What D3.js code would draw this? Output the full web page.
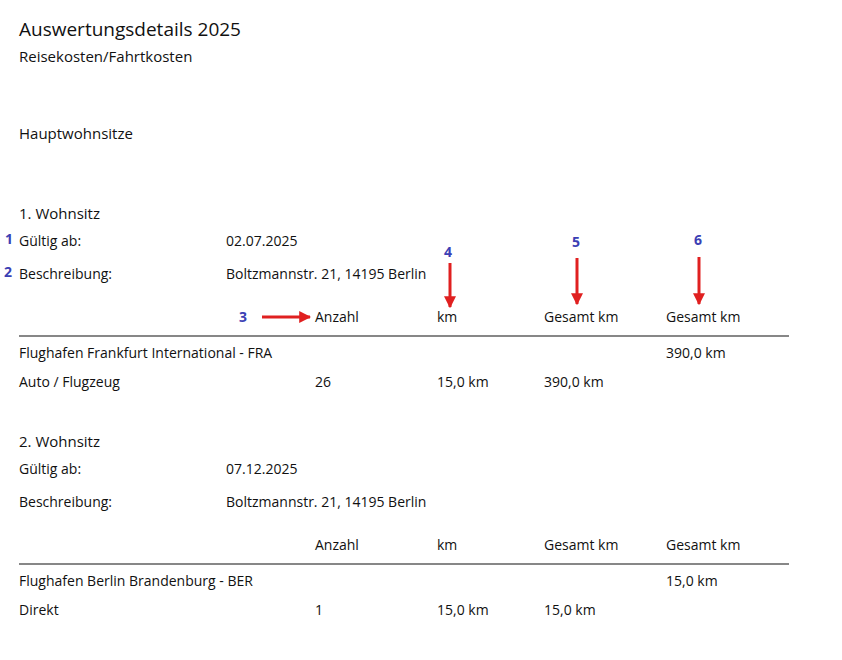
<!DOCTYPE html>
<html><head><meta charset="utf-8">
<script src="https://cdn.jsdelivr.net/npm/d3@7"></script>
<style>
body{margin:0;background:#fff;}
text{font-family:"Open Sans",sans-serif;fill:#111;}
.marker{fill:#3b40b4;font-weight:bold;font-size:14px;}
</style></head><body>
<svg id="chart" width="842" height="660"></svg>
<script>
var columns = ["Anzahl", "km", "Gesamt km", "Gesamt km"];
var residences = ["1. Wohnsitz", "2. Wohnsitz"];
var validFrom = ["02.07.2025", "07.12.2025"];
var descriptions = ["Boltzmannstr. 21, 14195 Berlin", "Boltzmannstr. 21, 14195 Berlin"];
var airports = ["Flughafen Frankfurt International  -  FRA", "Flughafen Berlin Brandenburg  -  BER"];
var airportTotals = [390.0, 15.0];
var modes = ["Auto / Flugzeug", "Direkt"];
var counts = [26, 1];
var kmPerTrip = [15.0, 15.0];
var modeTotals = [390.0, 15.0];

var svg = d3.select("#chart");
var fmt = function(v) { return v.toFixed(1).replace(".", ",") + " km"; };

var colX = d3.scaleOrdinal().domain([0, 1, 2, 3]).range([315, 437, 544, 666]);

svg.append("text").attr("x", 19).attr("y", 36).style("font-size", "19px").text("Auswertungsdetails 2025");
svg.append("text").attr("x", 19).attr("y", 62).style("font-size", "15px").text("Reisekosten/Fahrtkosten");
svg.append("text").attr("x", 19).attr("y", 139).style("font-size", "15px").text("Hauptwohnsitze");

var blockTop = [219, 447];
residences.forEach(function(r, i) {
	var g = svg.append("g").attr("transform", "translate(0," + blockTop[i] + ")");
	g.append("text").attr("x", 19).attr("y", 0).style("font-size", "15px").text(r);
	g.append("text").attr("x", 19).attr("y", 27).style("font-size", "14px").text("Gültig ab:");
	g.append("text").attr("x", 226).attr("y", 27).style("font-size", "14px").text(validFrom[i]);
	g.append("text").attr("x", 19).attr("y", 60).style("font-size", "14px").text("Beschreibung:");
	g.append("text").attr("x", 226).attr("y", 60).style("font-size", "14px").text(descriptions[i]);
	g.selectAll(".col").data(columns).enter().append("text")
		.attr("x", function(d, j) { return colX(j); }).attr("y", 103)
		.style("font-size", "14px").text(function(d) { return d; });
	g.append("line").attr("x1", 19).attr("x2", 789).attr("y1", 117).attr("y2", 117)
		.attr("stroke", "#111").attr("stroke-width", 1.2);
	g.append("text").attr("x", 19).attr("y", 139).style("font-size", "14px").text(airports[i]);
	g.append("text").attr("x", colX(3)).attr("y", 139).style("font-size", "14px").text(fmt(airportTotals[i]));
	g.append("text").attr("x", 19).attr("y", 168).style("font-size", "14px").text(modes[i]);
	g.append("text").attr("x", colX(0)).attr("y", 168).style("font-size", "14px").text(counts[i]);
	g.append("text").attr("x", colX(1)).attr("y", 168).style("font-size", "14px").text(fmt(kmPerTrip[i]));
	g.append("text").attr("x", colX(2)).attr("y", 168).style("font-size", "14px").text(fmt(modeTotals[i]));
});

// annotation markers
var defs = svg.append("defs");
defs.append("marker").attr("id", "head").attr("viewBox", "0 0 10 10").attr("refX", 9).attr("refY", 5)
	.attr("markerWidth", 4).attr("markerHeight", 4).attr("orient", "auto")
	.append("path").attr("d", "M0,0L10,5L0,10z").attr("fill", "#e02020");

var markers = [
	{t: "1", x: 5, y: 244}, {t: "2", x: 4, y: 277}, {t: "3", x: 239, y: 322},
	{t: "4", x: 444, y: 257}, {t: "5", x: 572, y: 247}, {t: "6", x: 694, y: 245}
];
svg.selectAll(".marker").data(markers).enter().append("text").attr("class", "marker")
	.attr("x", function(d) { return d.x; }).attr("y", function(d) { return d.y; })
	.text(function(d) { return d.t; });

var arrows = [
	{x1: 262, y1: 317, x2: 310, y2: 317},
	{x1: 450, y1: 263, x2: 450, y2: 307},
	{x1: 577, y1: 258, x2: 577, y2: 304},
	{x1: 699, y1: 257, x2: 699, y2: 304}
];
svg.selectAll(".arrow").data(arrows).enter().append("line")
	.attr("x1", function(d) { return d.x1; }).attr("y1", function(d) { return d.y1; })
	.attr("x2", function(d) { return d.x2; }).attr("y2", function(d) { return d.y2; })
	.attr("stroke", "#e02020").attr("stroke-width", 3).attr("marker-end", "url(#head)");
</script>
</body></html>
